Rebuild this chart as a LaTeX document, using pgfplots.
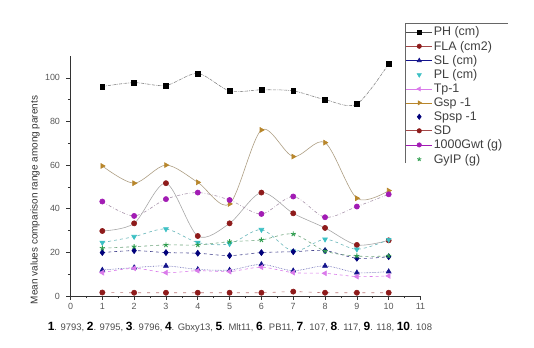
\documentclass[border=0pt]{standalone}
\usepackage{fontspec}
\setmainfont{Liberation Sans}
\usepackage{pgfplots}
\pgfplotsset{compat=1.18}
\definecolor{cPH}{HTML}{000000}
\definecolor{cRed}{HTML}{8E1B1B}
\definecolor{cNavy}{HTML}{14148C}
\definecolor{cTeal}{HTML}{3CC0C4}
\definecolor{cViolet}{HTML}{DA7BEA}
\definecolor{cBrown}{HTML}{B8862B}
\definecolor{cDiam}{HTML}{00007A}
\definecolor{cPurple}{HTML}{A21CB4}
\definecolor{cGreen}{HTML}{2E9E4E}
\definecolor{lgray}{HTML}{A8A8A8}
\newcommand{\bn}[1]{\textcolor{black}{\fontsize{12}{13}\selectfont\textbf{#1}}}
% legend image: #1 line style (or none), #2 mark options
\newcommand{\lgimg}[2]{\addlegendimage{legend image code/.code={%
  \draw[#1] (0cm,0cm) -- (0.9cm,0cm);
  \path plot[#2] coordinates {(0.45cm,0cm)};}}}
\begin{document}
\begin{tikzpicture}
\path[use as bounding box] (0,0) rectangle (534bp,348bp);
\begin{axis}[
  at={(70.5bp,52bp)}, anchor=south west,
  scale only axis, width=350bp, height=240bp,
  xmin=0, xmax=11, ymin=0, ymax=110,
  clip mode=individual,
  axis lines=left, axis line style={black!80, -, line width=0.8pt},
  xtick={0,...,11}, ytick={0,20,...,100},
  minor x tick num=1, minor y tick num=1,
  tick align=outside, major tick length=4bp, minor tick length=2.5bp,
  tick style={black!80, line width=0.6pt},
  ticklabel style={font=\fontsize{9}{10}\selectfont, text=black!65},
  yticklabel style={xshift=-3bp},
  /pgf/number format/assume math mode=true,
  legend style={at={(0.9557,1.1375)}, anchor=north west, draw=none,
    font=\fontsize{12.5}{12.5}\selectfont, text=black!75, inner xsep=1pt, inner ysep=1.5pt,
    row sep=-0.2pt, fill=none, nodes={inner xsep=1.5pt}},
  legend cell align=left,
  every axis plot/.append style={smooth, line width=0.6pt},
]
% PH
\addplot[lgray!80!black, densely dashdotted, mark=square*, mark size=2.4pt, mark options={solid, fill=cPH, draw=cPH}, forget plot] coordinates {
(1,96) (2,97.8) (3,96.5) (4,102) (5,94) (6,94.5) (7,94) (8,90) (9,88) (10,106.4)};
% FLA
\addplot[lgray, mark=*, mark size=2.6pt, mark options={solid, fill=cRed, draw=cRed}, forget plot] coordinates {
(1,29.8) (2,33.3) (3,51.7) (4,27.5) (5,33.3) (6,47.4) (7,37.9) (8,31.2) (9,23.4) (10,25.5)};
% SL
\addplot[cNavy!70, densely dotted, mark=triangle*, mark size=2.8pt, mark options={solid, fill=cNavy, draw=cNavy}, forget plot] coordinates {
(1,11.9) (2,13) (3,13.8) (4,12.2) (5,11.9) (6,14.5) (7,11.6) (8,13.8) (9,10.7) (10,11.2)};
% PL
\addplot[cTeal!60!lgray, dashed, mark=triangle*, mark size=2.8pt, mark options={solid, rotate=180, fill=cTeal, draw=cTeal}, forget plot] coordinates {
(1,24.5) (2,27.2) (3,30.7) (4,24.5) (5,23.9) (6,30.4) (7,20.5) (8,26) (9,21.4) (10,25.8)};
% Tp-1
\addplot[cViolet, dashed, mark=triangle*, mark size=2.8pt, mark options={solid, rotate=90, fill=cViolet, draw=cViolet}, forget plot] coordinates {
(1,10.7) (2,12.7) (3,10.7) (4,11.6) (5,11.2) (6,13.2) (7,10.7) (8,10.4) (9,8.9) (10,9.2)};
% Gsp-1
\addplot[lgray!70!cBrown, mark=triangle*, mark size=2.8pt, mark options={solid, rotate=-90, fill=cBrown, draw=cBrown}, forget plot] coordinates {
(1,59.6) (2,51.7) (3,60) (4,52.1) (5,42.2) (6,76.1) (7,63.9) (8,70.3) (9,44.8) (10,48.3)};
% Spsp-1
\addplot[cDiam!60!lgray, dashed, mark=diamond*, mark size=3pt, mark options={solid, fill=cDiam, draw=cDiam}, forget plot] coordinates {
(1,19.9) (2,20.8) (3,19.9) (4,19.6) (5,18.5) (6,19.9) (7,20.3) (8,20.8) (9,17.3) (10,18)};
% SD
\addplot[cRed!60, loosely dashed, mark=*, mark size=2.6pt, mark options={solid, fill=cRed, draw=cRed}, forget plot] coordinates {
(1,1.6) (2,1.5) (3,1.5) (4,1.5) (5,1.5) (6,1.5) (7,2.0) (8,1.5) (9,1.5) (10,1.5)};
% 1000Gwt
\addplot[lgray!85!cPurple, dashdotted, mark=*, mark size=2.6pt, mark options={solid, fill=cPurple, draw=cPurple}, forget plot] coordinates {
(1,43.3) (2,36.7) (3,44.4) (4,47.4) (5,44) (6,37.6) (7,45.6) (8,36.1) (9,41) (10,46.6)};
% GyIP
\addplot[cGreen!50!lgray, dashed, mark=star, mark size=2.6pt, mark options={solid, draw=cGreen, line width=0.9pt}, forget plot] coordinates {
(1,21.9) (2,22.6) (3,23.4) (4,23.4) (5,24.9) (6,25.7) (7,28.4) (8,20.6) (9,18.3) (10,18.3)};

\lgimg{black!70, line width=0.6pt}{mark=square*, mark size=2pt, mark options={fill=cPH, draw=cPH}}
\lgimg{cRed!80, line width=0.6pt}{mark=*, mark size=2.2pt, mark options={fill=cRed, draw=cRed}}
\lgimg{cNavy, line width=0.6pt}{mark=triangle*, mark size=2.4pt, mark options={fill=cNavy, draw=cNavy}}
\lgimg{draw=none}{mark=triangle*, mark size=2.4pt, mark options={rotate=180, fill=cTeal, draw=cTeal}}
\lgimg{cViolet, line width=0.6pt}{mark=triangle*, mark size=2.4pt, mark options={rotate=90, fill=cViolet, draw=cViolet}}
\lgimg{cBrown, line width=0.6pt}{mark=triangle*, mark size=2.4pt, mark options={rotate=-90, fill=cBrown, draw=cBrown}}
\lgimg{draw=none}{mark=diamond*, mark size=2.6pt, mark options={fill=cDiam, draw=cDiam}}
\lgimg{cRed!80, line width=0.6pt}{mark=*, mark size=2.2pt, mark options={fill=cRed, draw=cRed}}
\lgimg{cPurple, line width=0.6pt}{mark=*, mark size=2.2pt, mark options={fill=cPurple, draw=cPurple}}
\lgimg{draw=none}{mark=star, mark size=2.2pt, mark options={draw=cGreen, line width=0.8pt}}
\legend{PH (cm), FLA (cm2), SL (cm), PL (cm), Tp-1, Gsp -1, Spsp -1, SD, 1000Gwt (g), GyIP (g)}

\draw[black!60, line width=0.6pt] (rel axis cs:0.9557,0.554) -- (rel axis cs:0.9557,1.1375) -- (rel axis cs:1.25,1.1375);
\node[rotate=90, font=\fontsize{10}{11}\selectfont, text=black!80] at (rel axis cs:-0.101,0.4) {Mean values comparison range among parents};
\node[font=\fontsize{9.5}{10}\selectfont, text=black!70] at (rel axis cs:0.484,-0.129) {\bn{1}. 9793, \bn{2}. 9795, \bn{3}. 9796, \bn{4}. Gbxy13, \bn{5}. Mlt11, \bn{6}. PB11, \bn{7}. 107, \bn{8}. 117, \bn{9}. 118, \bn{10}. 108};
\end{axis}
\end{tikzpicture}
\end{document}
